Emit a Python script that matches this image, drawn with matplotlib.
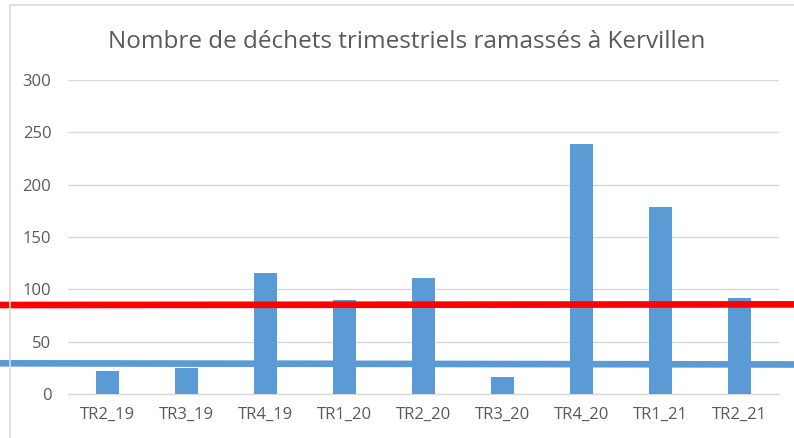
import matplotlib.pyplot as plt
from matplotlib.transforms import blended_transform_factory
from matplotlib.patches import Rectangle

plt.rcParams['font.family'] = ['Open Sans', 'DejaVu Sans']

trimestres = ["TR2_19", "TR3_19", "TR4_19", "TR1_20", "TR2_20", "TR3_20", "TR4_20", "TR1_21", "TR2_21"]
dechets = [22, 25, 116, 90, 111, 16, 239, 179, 92]
niveau_rouge = 85
niveau_bleu = [29.3, 28.2]  # gauche, droite (légère pente)

bleu = "#5B9BD5"
gris = "#595959"
grille = "#D9D9D9"

fig = plt.figure(figsize=(7.94, 4.38), dpi=100)
ax = fig.add_axes([0.0856, 0.1005, 0.8955, 0.7169])

x = range(len(trimestres))
ax.bar(x, dechets, width=0.3, color=bleu, zorder=3)

ax.set_ylim(0, 300)
ax.set_xlim(-0.5, len(trimestres) - 0.5)
ax.set_yticks([0, 50, 100, 150, 200, 250, 300])
ax.set_xticks(list(x))
ax.set_xticklabels(trimestres)
ax.tick_params(length=0, colors=gris, labelsize=12)
ax.tick_params(axis='y', pad=12)
ax.tick_params(axis='x', pad=9)
ax.grid(axis='y', color=grille, linewidth=1, zorder=0)
for s in ["top", "right", "left"]:
    ax.spines[s].set_visible(False)
ax.spines["bottom"].set_color(grille)
ax.spines["bottom"].set_linewidth(1)

# lignes horizontales sur toute la largeur de la figure
tr = blended_transform_factory(fig.transFigure, ax.transData)
ax.plot([0, 1], niveau_bleu, color=bleu, linewidth=4.8, transform=tr, clip_on=False, zorder=4)
ax.plot([0, 1], [niveau_rouge, niveau_rouge + 0.6], color="#FF0000", linewidth=4.8, transform=tr, clip_on=False, zorder=5)

# bordure du graphique
fig.patches.append(Rectangle((10 / 794, -0.1), 1.2, 1.1 - 5 / 438, transform=fig.transFigure,
                             fill=False, edgecolor=grille, linewidth=1.2))

fig.text(0.512, 0.905, "Nombre de déchets trimestriels ramassés à Kervillen",
         ha="center", va="center", fontsize=17.5, color=gris)

fig.savefig("out.png", dpi=100)
